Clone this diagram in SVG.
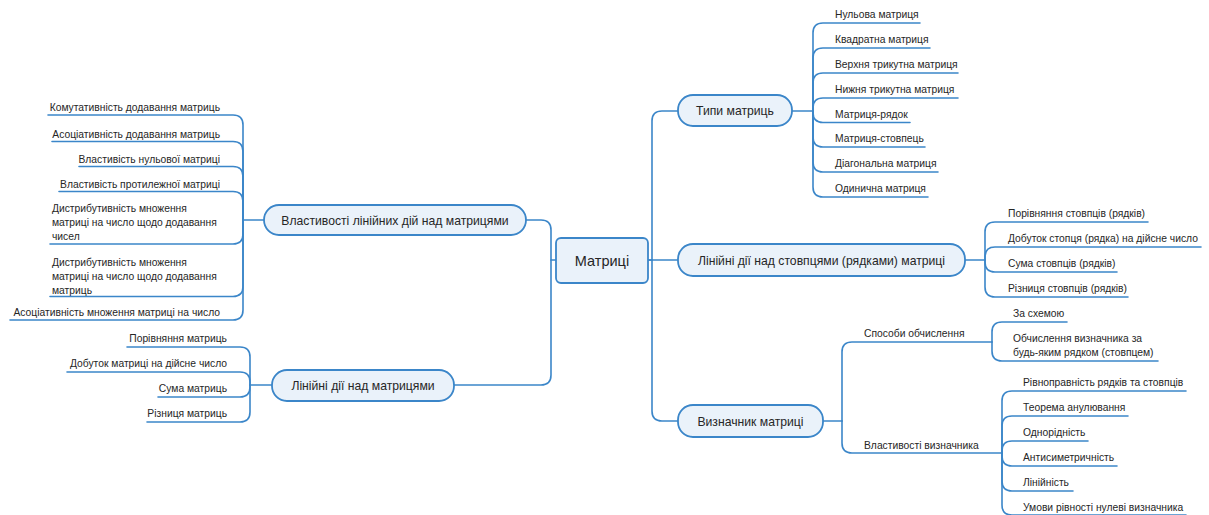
<svg xmlns="http://www.w3.org/2000/svg" width="1209" height="515" viewBox="0 0 1209 515">
  <style>
    .ln { fill: none; stroke: #3b86c9; stroke-width: 1.6; stroke-linecap: round; }
    .box { fill: #eaf2fa; stroke: #3b86c9; stroke-width: 1.8; }
    .t { font-family: "Liberation Sans", Arial, sans-serif; font-size: 10.3px; fill: #262626; }
    .tt { font-family: "Liberation Sans", Arial, sans-serif; font-size: 12.2px; fill: #262626; text-anchor: middle; }
    .tc { font-family: "Liberation Sans", Arial, sans-serif; font-size: 14.5px; fill: #262626; text-anchor: middle; }
    .r { text-anchor: end; }
  </style>
  <rect width="1209" height="515" fill="#ffffff"/>

  <!-- connectors -->
  <g id="connectors">
    <!-- trunks from the central topic -->
    <path class="ln" d="M556 260 H551 V230 Q551 220 541 220 H526"/>
    <path class="ln" d="M551 260 V375 Q551 385 541 385 H454"/>
    <path class="ln" d="M648 260 H652 V121 Q652 111 662 111 H678"/>
    <path class="ln" d="M648 260 H678"/>
    <path class="ln" d="M652 260 V411 Q652 421 662 421 H678"/>

    <!-- Типи матриць -->
    <path class="ln" d="M792 111 H813"/>
    <path class="ln" d="M813 111 V33 Q813 23 823 23 H920"/>
    <path class="ln" d="M813 111 V58 Q813 48 823 48 H930"/>
    <path class="ln" d="M813 111 V83 Q813 73 823 73 H958"/>
    <path class="ln" d="M813 111 V108 Q813 98 823 98 H958"/>
    <path class="ln" d="M813 111 V112.5 Q813 122.5 823 122.5 H910"/>
    <path class="ln" d="M813 111 V137 Q813 147 823 147 H925"/>
    <path class="ln" d="M813 111 V162 Q813 172 823 172 H938"/>
    <path class="ln" d="M813 111 V187 Q813 197 823 197 H928"/>

    <!-- Лінійні дії над стовпцями (рядками) матриці -->
    <path class="ln" d="M965 260 H985"/>
    <path class="ln" d="M985 260 V232 Q985 222 995 222 H1148"/>
    <path class="ln" d="M985 260 V257 Q985 247 995 247 H1201"/>
    <path class="ln" d="M985 260 V262 Q985 272 995 272 H1117"/>
    <path class="ln" d="M985 260 V287 Q985 297 995 297 H1128"/>

    <!-- Визначник матриці -->
    <path class="ln" d="M823 421 H842"/>
    <path class="ln" d="M842 421 V352 Q842 342 852 342 H992"/>
    <path class="ln" d="M842 421 V443 Q842 453 852 453 H1002"/>
    <path class="ln" d="M992 342 V332 Q992 322 1002 322 H1067"/>
    <path class="ln" d="M992 342 V351 Q992 361 1002 361 H1158"/>
    <path class="ln" d="M1002 453 V401 Q1002 391 1012 391 H1186"/>
    <path class="ln" d="M1002 453 V426 Q1002 416 1012 416 H1128"/>
    <path class="ln" d="M1002 453 V451 Q1002 441 1012 441 H1088"/>
    <path class="ln" d="M1002 453 V456 Q1002 466 1012 466 H1117"/>
    <path class="ln" d="M1002 453 V481 Q1002 491 1012 491 H1073"/>
    <path class="ln" d="M1002 453 V505 Q1002 515 1012 515 H1186"/>

    <!-- Властивості лінійних дій над матрицями -->
    <path class="ln" d="M264 220 H243"/>
    <path class="ln" d="M243 220 V125 Q243 115 233 115 H48"/>
    <path class="ln" d="M243 220 V151.5 Q243 141.5 233 141.5 H52"/>
    <path class="ln" d="M243 220 V176.5 Q243 166.5 233 166.5 H79"/>
    <path class="ln" d="M243 220 V201.5 Q243 191.5 233 191.5 H59"/>
    <path class="ln" d="M243 220 V234 Q243 244 233 244 H50"/>
    <path class="ln" d="M243 220 V286.5 Q243 296.5 233 296.5 H50"/>
    <path class="ln" d="M243 220 V310 Q243 320 233 320 H10"/>

    <!-- Лінійні дії над матрицями -->
    <path class="ln" d="M272 385 H250"/>
    <path class="ln" d="M250 385 V357 Q250 347 240 347 H127"/>
    <path class="ln" d="M250 385 V382 Q250 372 240 372 H67"/>
    <path class="ln" d="M250 385 V387 Q250 397 240 397 H158"/>
    <path class="ln" d="M250 385 V412 Q250 422 240 422 H147"/>
  </g>

  <!-- central topic -->
  <g id="n-matrytsi">
    <rect class="box" x="556" y="238" width="92" height="45" rx="5"/>
    <text class="tc" x="602" y="266">Матриці</text>
  </g>

  <!-- main topics -->
  <g id="n-typy">
    <rect class="box" x="678" y="95" width="114" height="31" rx="15"/>
    <text class="tt" x="735" y="115">Типи матриць</text>
  </g>
  <g id="n-stovptsi">
    <rect class="box" x="678" y="244" width="287" height="32" rx="15"/>
    <text class="tt" x="821.5" y="264.5">Лінійні дії над стовпцями (рядками) матриці</text>
  </g>
  <g id="n-vyznachnyk">
    <rect class="box" x="678" y="405" width="145" height="32" rx="15"/>
    <text class="tt" x="750.5" y="425.5">Визначник матриці</text>
  </g>
  <g id="n-vlastyvosti">
    <rect class="box" x="264" y="205" width="262" height="30" rx="15"/>
    <text class="tt" x="395" y="224.5">Властивості лінійних дій над матрицями</text>
  </g>
  <g id="n-liniini">
    <rect class="box" x="272" y="370" width="182" height="31" rx="15"/>
    <text class="tt" x="363" y="390">Лінійні дії над матрицями</text>
  </g>

  <!-- Типи матриць: leaves -->
  <g id="n-typy-1"><text class="t" x="835" y="18">Нульова матриця</text></g>
  <g id="n-typy-2"><text class="t" x="835" y="43">Квадратна матриця</text></g>
  <g id="n-typy-3"><text class="t" x="835" y="68">Верхня трикутна матриця</text></g>
  <g id="n-typy-4"><text class="t" x="835" y="93">Нижня трикутна матриця</text></g>
  <g id="n-typy-5"><text class="t" x="835" y="117.5">Матриця-рядок</text></g>
  <g id="n-typy-6"><text class="t" x="835" y="142">Матриця-стовпець</text></g>
  <g id="n-typy-7"><text class="t" x="835" y="167">Діагональна матриця</text></g>
  <g id="n-typy-8"><text class="t" x="835" y="192">Одинична матриця</text></g>

  <!-- стовпці: leaves -->
  <g id="n-stovptsi-1"><text class="t" x="1008" y="217">Порівняння стовпців (рядків)</text></g>
  <g id="n-stovptsi-2"><text class="t" x="1008" y="242">Добуток стопця (рядка) на дійсне число</text></g>
  <g id="n-stovptsi-3"><text class="t" x="1008" y="267">Сума стовпців (рядків)</text></g>
  <g id="n-stovptsi-4"><text class="t" x="1008" y="292">Різниця стовпців (рядків)</text></g>

  <!-- Визначник: subtopics and leaves -->
  <g id="n-sposoby"><text class="t" x="864" y="337">Способи обчислення</text></g>
  <g id="n-sposoby-1"><text class="t" x="1013" y="317">За схемою</text></g>
  <g id="n-sposoby-2">
    <text class="t" x="1013" y="342">Обчислення визначника за</text>
    <text class="t" x="1013" y="356">будь-яким рядком (стовпцем)</text>
  </g>
  <g id="n-vlast-vyzn"><text class="t" x="864" y="449">Властивості визначника</text></g>
  <g id="n-vlast-vyzn-1"><text class="t" x="1023" y="386">Рівноправність рядків та стовпців</text></g>
  <g id="n-vlast-vyzn-2"><text class="t" x="1023" y="411">Теорема анулювання</text></g>
  <g id="n-vlast-vyzn-3"><text class="t" x="1023" y="436">Однорідність</text></g>
  <g id="n-vlast-vyzn-4"><text class="t" x="1023" y="461">Антисиметричність</text></g>
  <g id="n-vlast-vyzn-5"><text class="t" x="1023" y="486">Лінійність</text></g>
  <g id="n-vlast-vyzn-6"><text class="t" x="1023" y="511">Умови рівності нулеві визначника</text></g>

  <!-- Властивості лінійних дій: leaves -->
  <g id="n-vlastyvosti-1"><text class="t r" x="220" y="111">Комутативність додавання матриць</text></g>
  <g id="n-vlastyvosti-2"><text class="t r" x="220" y="137.5">Асоціативність додавання матриць</text></g>
  <g id="n-vlastyvosti-3"><text class="t r" x="220" y="162.5">Властивість нульової матриці</text></g>
  <g id="n-vlastyvosti-4"><text class="t r" x="220" y="187.5">Властивість протилежної матриці</text></g>
  <g id="n-vlastyvosti-5">
    <text class="t" x="52" y="212">Дистрибутивність множення</text>
    <text class="t" x="52" y="226">матриці на число щодо додавання</text>
    <text class="t" x="52" y="240">чисел</text>
  </g>
  <g id="n-vlastyvosti-6">
    <text class="t" x="52" y="266">Дистрибутивність множення</text>
    <text class="t" x="52" y="280">матриці на число щодо додавання</text>
    <text class="t" x="52" y="294">матриць</text>
  </g>
  <g id="n-vlastyvosti-7"><text class="t r" x="220" y="316">Асоціативність множення матриці на число</text></g>

  <!-- Лінійні дії над матрицями: leaves -->
  <g id="n-liniini-1"><text class="t r" x="227" y="342">Порівняння матриць</text></g>
  <g id="n-liniini-2"><text class="t r" x="227" y="367">Добуток матриці на дійсне число</text></g>
  <g id="n-liniini-3"><text class="t r" x="227" y="392">Сума матриць</text></g>
  <g id="n-liniini-4"><text class="t r" x="227" y="417">Різниця матриць</text></g>
</svg>
